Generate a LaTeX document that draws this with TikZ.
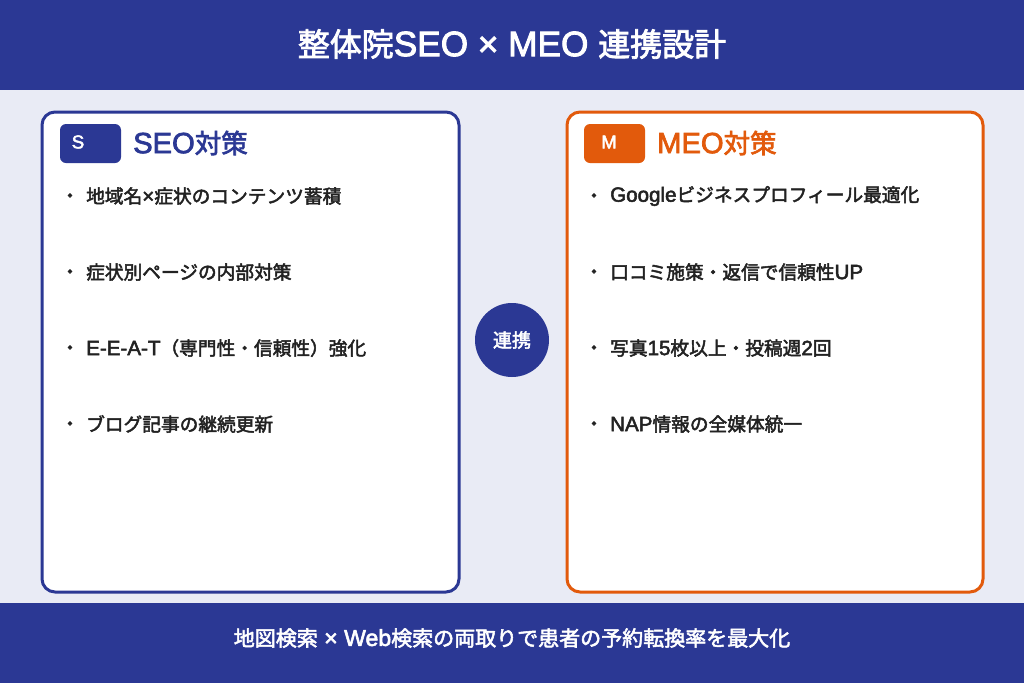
\documentclass[tikz,border=0pt]{standalone}
\usepackage{fontspec}
\setmainfont{Noto Sans CJK JP}[FakeBold=2.5]
\newfontfamily\la{Liberation Sans}[Scale=1.1, FakeBold=2.5]
\newcommand\lt[1]{{\la #1}}
\definecolor{navy}{HTML}{2B3894}
\definecolor{orng}{HTML}{E25A0C}
\definecolor{bgc}{HTML}{E9EBF5}
\definecolor{txt}{HTML}{222222}
\tikzset{
  item/.style={anchor=west, text=txt, font=\fontsize{18.7}{22}\selectfont, inner sep=0pt},
  bul/.style={text=txt, font=\fontsize{18.7}{22}\selectfont, inner sep=0pt},
  panel/.style={line width=3pt, fill=white, rounded corners=13pt},
  badge/.style={rounded corners=6pt},
  head/.style={anchor=west, font=\fontsize{26.5}{30}\selectfont, inner sep=0pt},
  btxt/.style={text=white, font=\fontsize{17}{20}\selectfont},
}
\begin{document}
\begin{tikzpicture}[x=1pt,y=-1pt]
\useasboundingbox (0,0) rectangle (1024,683);
\fill[bgc] (0,0) rectangle (1024,683);
% header
\fill[navy] (0,0) rectangle (1024,90);
\node[text=white, font=\fontsize{32}{36}\selectfont] (title) at (512,44) {整体院\lt{SEO × MEO }連携設計};
% footer
\fill[navy] (0,603) rectangle (1024,683);
\node[text=white, font=\fontsize{21}{25}\selectfont] (foot) at (512,638) {地図検索\lt{ × Web}検索の両取りで患者の予約転換率を最大化};
% panels
\draw[panel, draw=navy] (42,112) rectangle (459,592);
\draw[panel, draw=orng] (567,112) rectangle (983,592);
% badges
\fill[navy, badge] (60,124) rectangle (121,163);
\node[btxt] (sb) at (78,142) {\lt{S}};
\node[head, text=navy] (sh) at (133,143) {\lt{SEO}対策};
\fill[orng, badge] (584,124) rectangle (645,163);
\node[btxt] (mb) at (609,142) {\lt{M}};
\node[head, text=orng] (mh) at (657,143) {\lt{MEO}対策};
% left items
\foreach \y/\t [count=\i] in {196/地域名\lt{×}症状のコンテンツ蓄積, 272/症状別ページの内部対策, 348/\lt{E-E-A-T}（専門性・信頼性）強化, 424/ブログ記事の継続更新}{
  \node[bul] (lb\i) at (70,\y+2) {・};
  \node[item] (lt\i) at (86,\y) {\t};
}
% right items
\foreach \y/\t [count=\i] in {196/\lt{Google}ビジネスプロフィール最適化, 272/口コミ施策・返信で信頼性\lt{UP}, 348/写真\lt{15}枚以上・投稿週\lt{2}回, 424/\lt{NAP}情報の全媒体統一}{
  \node[bul] (rb\i) at (594,\y+2) {・};
  \node[item] (rt\i) at (610,\y) {\t};
}
% center
\node[circle, fill=navy, minimum size=74pt, inner sep=0pt, text=white, font=\fontsize{19}{22}\selectfont] (link) at (512,340) {連携};
\end{tikzpicture}
\end{document}
